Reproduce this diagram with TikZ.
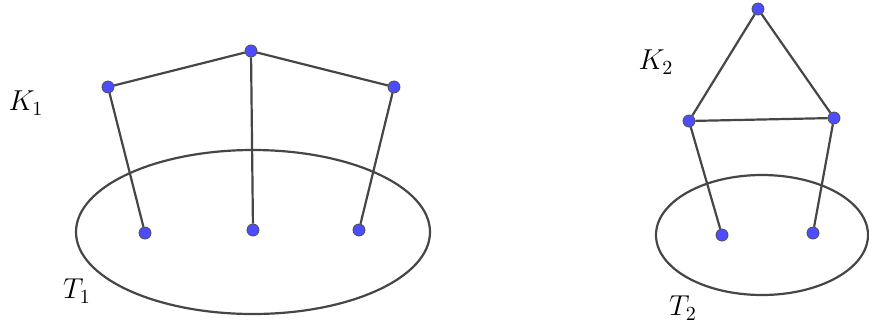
\documentclass[tikz,border=0pt]{standalone}
\usepackage{amsmath}
\usepackage{amssymb}
\definecolor{dotblue}{RGB}{77,77,255}
\definecolor{linegray}{RGB}{70,70,70}
\tikzset{
  pt/.style={circle, draw=black!70, fill=dotblue, line width=0.4pt, inner sep=0pt, minimum size=6pt},
  edge/.style={draw=linegray, line width=1.1pt},
  lab/.style={font=\Large}
}

\begin{document}
\begin{tikzpicture}[x=0.5pt, y=-0.5pt]
    \useasboundingbox (0,0) rectangle (869,323);
    % sets
    \draw[edge] (253,232) ellipse [x radius=177, y radius=82];
    \draw[edge] (762,235) ellipse [x radius=106, y radius=60];
    \node[lab] (K1) at (26,103) {$K_1$};
    \node[lab] (T1) at (77,291) {$T_1$};
    \node[lab] (K2) at (656,62) {$K_2$};
    \node[lab] (T2) at (683,308) {$T_2$};
    % first graph
    \node[pt] (a) at (251,51) {};
    \node[pt] (b) at (108,87) {};
    \node[pt] (c) at (394,87) {};
    \node[pt] (ta) at (145,233) {};
    \node[pt] (tb) at (253,230) {};
    \node[pt] (tc) at (359,230) {};
    \draw[edge] (b) -- (a) -- (c);
    \draw[edge] (b) -- (ta);
    \draw[edge] (a) -- (tb);
    \draw[edge] (c) -- (tc);
    % second graph
    \node[pt] (d) at (758,9) {};
    \node[pt] (e) at (689,121) {};
    \node[pt] (f) at (834,118) {};
    \node[pt] (td) at (722,235) {};
    \node[pt] (te) at (813,233) {};
    \draw[edge] (d) -- (e) -- (f) -- (d);
    \draw[edge] (e) -- (td);
    \draw[edge] (f) -- (te);
\end{tikzpicture}
\end{document}
